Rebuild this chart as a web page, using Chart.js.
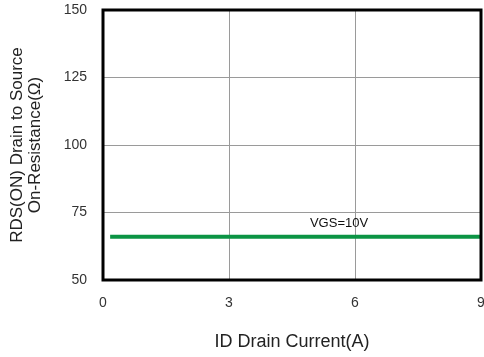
<!DOCTYPE html>
<html lang="en">
<head>
  <meta charset="UTF-8">
  <title>RDS(ON) vs Drain Current</title>
  <style>
    body {
      margin: 0;
      background-color: #ffffff;
    }

    .chart-container {
      width: 484px;
      height: 357px;
      position: relative;
    }
  </style>
</head>
<body>

  <div class="chart-container">
    <canvas id="rdsChart"></canvas>
  </div>

  <script src="https://cdn.jsdelivr.net/npm/chart.js"></script>

  <script>
    // values
    const drainCurrent = [0.17, 9];
    const rdsOn = [66, 66];
    const xTicks = [0, 3, 6, 9];
    const yTicks = [50, 75, 100, 125, 150];
    const curveLabel = "VGS=10V";
    const curveLabelAt = [5.62, 71];

    const fontFamily = "'Liberation Sans', Arial, sans-serif";

    // black frame round the plot area, plus the curve label
    const framePlugin = {
      id: "frame",
      afterDraw(chart) {
        const { ctx, chartArea, scales } = chart;
        ctx.save();
        ctx.strokeStyle = "#000000";
        ctx.lineWidth = 3;
        ctx.strokeRect(chartArea.left, chartArea.top,
          chartArea.right - chartArea.left, chartArea.bottom - chartArea.top);

        ctx.fillStyle = "#111111";
        ctx.font = "13px " + fontFamily;
        ctx.textAlign = "center";
        ctx.textBaseline = "middle";
        ctx.fillText(curveLabel,
          scales.x.getPixelForValue(curveLabelAt[0]),
          scales.y.getPixelForValue(curveLabelAt[1]));
        ctx.restore();
      }
    };

    const ctx = document.getElementById("rdsChart").getContext("2d");
    new Chart(ctx, {
      type: "scatter",
      data: {
        datasets: [{
          label: curveLabel,
          data: drainCurrent.map((x, i) => ({ x: x, y: rdsOn[i] })),
          showLine: true,
          borderColor: "#0b9444",
          backgroundColor: "#0b9444",
          borderWidth: 4,
          pointRadius: 0,
          tension: 0
        }]
      },
      options: {
        responsive: true,
        maintainAspectRatio: false,
        animation: false,
        layout: {
          padding: { top: 10, right: 3, left: 0, bottom: 0 }
        },
        scales: {
          x: {
            type: "linear",
            min: xTicks[0],
            max: xTicks[xTicks.length - 1],
            afterBuildTicks: scale => {
              scale.ticks = xTicks.map(v => ({ value: v }));
            },
            afterFit: scale => {
              scale.height = 77;
              scale.paddingLeft = 0;
              scale.paddingRight = 0;
            },
            grid: { color: "#9a9a9a", lineWidth: 1, drawTicks: false },
            border: { display: false },
            ticks: {
              padding: 15,
              color: "#333333",
              font: { family: fontFamily, size: 14 }
            },
            title: {
              display: true,
              text: "ID Drain Current(A)",
              color: "#222222",
              padding: { top: 0, bottom: 4 },
              font: { family: fontFamily, size: 18 }
            }
          },
          y: {
            type: "linear",
            min: yTicks[0],
            max: yTicks[yTicks.length - 1],
            afterBuildTicks: scale => {
              scale.ticks = yTicks.map(v => ({ value: v }));
            },
            afterFit: scale => {
              scale.width = 103;
              scale.paddingTop = 0;
              scale.paddingBottom = 0;
            },
            grid: { color: "#9a9a9a", lineWidth: 1, drawTicks: false },
            border: { display: false },
            ticks: {
              padding: 16,
              color: "#333333",
              font: { family: fontFamily, size: 14 }
            },
            title: {
              display: true,
              text: ["RDS(ON) Drain to Source", "On-Resistance(Ω)"],
              color: "#222222",
              padding: { top: 8, bottom: 0 },
              font: { family: fontFamily, size: 17, lineHeight: 1.08 }
            }
          }
        },
        plugins: {
          legend: { display: false },
          tooltip: { enabled: false }
        }
      },
      plugins: [framePlugin]
    });
  </script>

</body>
</html>
